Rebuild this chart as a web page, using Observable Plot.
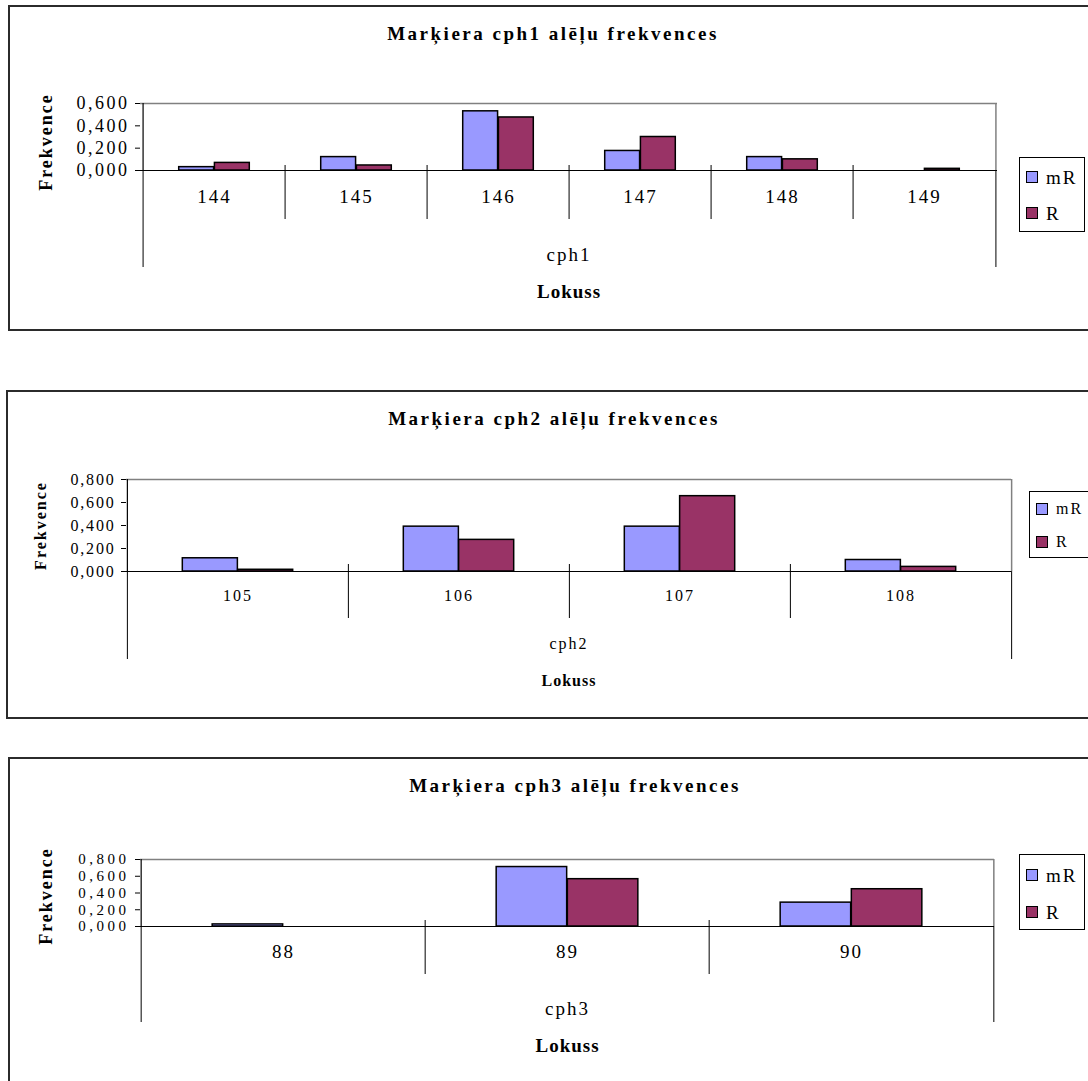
<!DOCTYPE html>
<html>
<head>
<meta charset="utf-8">
<script src="https://cdn.jsdelivr.net/npm/d3@7"></script>
<script src="https://cdn.jsdelivr.net/npm/@observablehq/plot@0.6"></script>
<style>
  html, body { margin: 0; padding: 0; background: #fff; }
  body { width: 1088px; height: 1081px; overflow: hidden; position: relative; font-family: "Liberation Serif", "Times New Roman", serif; color: #000; }
  .box { position: absolute; border: 2px solid #2b2b2b; box-sizing: border-box; }
  .title { position: absolute; text-align: center; font-weight: bold; letter-spacing: 2.5px; white-space: nowrap; line-height: 1; }
  .legend { position: absolute; border: 1px solid #000; background: #fff; box-sizing: border-box; }
  .legend .row { position: absolute; left: 6px; display: flex; align-items: center; line-height: 1; letter-spacing: 2px; }
  .legend .sw { display: inline-block; width: 10px; height: 10px; border: 1.6px solid #000; margin-right: 8px; }
  .chart svg { position: absolute; left: 0; overflow: visible; }
  .chart svg text { font-family: "Liberation Serif", "Times New Roman", serif !important; letter-spacing: 2px; }
</style>
</head>
<body>
<script>
// ---- data ----
const series = ["mR", "R"];
const seriesColors = ["#9999FF", "#993366"];

const cph1Alleles = ["144", "145", "146", "147", "148", "149"];
const cph1mR = [0.030, 0.120, 0.530, 0.175, 0.120, 0.000];
const cph1R  = [0.068, 0.045, 0.475, 0.300, 0.100, 0.015];
const cph1Ticks = [0, 0.2, 0.4, 0.6];

const cph2Alleles = ["105", "106", "107", "108"];
const cph2mR = [0.115, 0.390, 0.390, 0.100];
const cph2R  = [0.015, 0.275, 0.655, 0.040];
const cph2Ticks = [0, 0.2, 0.4, 0.6, 0.8];

const cph3Alleles = ["88", "89", "90"];
const cph3mR = [0.025, 0.710, 0.285];
const cph3R  = [0.000, 0.565, 0.445];
const cph3Ticks = [0, 0.2, 0.4, 0.6, 0.8];

const titles = ["Marķiera cph1 alēļu frekvences", "Marķiera cph2 alēļu frekvences", "Marķiera cph3 alēļu frekvences"];
const loci = ["cph1", "cph2", "cph3"];
const xTitle = "Lokuss";
const yTitle = "Frekvence";

// ---- layout (pixels) ----
const layouts = [
  {box: {left: 8, top: 5, w: 1100, h: 326}, svgW: 1010, plotLeft: 140, plotRight: 997, plotTop: 103, baseline: 170, svgBottom: 325,
   fs: 19, tickFs: 18, tickLs: 2.5, titleFs: 19, titleCx: 553, catDy: 32, locDy: 90, lokDy: 127, divUp: 5, divDown: 49, outerDown: 97,
   ylabX: 46, ylabDy: 5, ylabFs: 18, titleY: 33,
   legend: {left: 1019, top: 157, w: 66, h: 75, rows: [177, 213], fs: 19}},
  {box: {left: 6, top: 390, w: 1100, h: 329}, svgW: 1020, plotLeft: 126, plotRight: 1011, plotTop: 479, baseline: 571, svgBottom: 712,
   fs: 16, tickFs: 16, tickLs: 1.8, titleFs: 19, titleCx: 554, catDy: 29, locDy: 77, lokDy: 114, divUp: 7, divDown: 47, outerDown: 88,
   ylabX: 40, ylabDy: 0, ylabFs: 16, titleY: 418,
   legend: {left: 1029, top: 491, w: 70, h: 67, rows: [509, 542], fs: 16}},
  {box: {left: 8, top: 757, w: 1140, h: 400}, svgW: 1010, plotLeft: 140, plotRight: 994, plotTop: 859, baseline: 926, svgBottom: 1081,
   fs: 19, tickFs: 15, tickLs: 3.5, titleFs: 19, titleCx: 575, catDy: 31, locDy: 88, lokDy: 125, divUp: 6, divDown: 48, outerDown: 96,
   ylabX: 46, ylabDy: 3, ylabFs: 18, titleY: 785,
   legend: {left: 1019, top: 854, w: 66, h: 76, rows: [875, 912], fs: 19}}
];

const fmt = d => d3.format(".3f")(d).replace(".", ",");

function makeChart(alleles, mR, R, ticks, idx) {
  const L = layouts[idx];
  const rows = alleles.flatMap((a, i) => [
    {allele: a, series: series[0], value: mR[i]},
    {allele: a, series: series[1], value: R[i]}
  ]);
  const ymax = ticks[ticks.length - 1];
  const plotW = L.plotRight - L.plotLeft;
  const plotH = L.baseline - L.plotTop;
  const bw = plotW / alleles.length;
  const svgTop = L.plotTop - 30;
  const last = alleles[alleles.length - 1];

  const wrap = document.createElement("div");
  wrap.className = "chart";
  document.body.appendChild(wrap);

  const box = document.createElement("div");
  box.className = "box";
  Object.assign(box.style, {left: L.box.left + "px", top: L.box.top + "px", width: L.box.w + "px", height: L.box.h + "px"});
  wrap.appendChild(box);

  const plot = Plot.plot({
    width: L.svgW,
    height: L.svgBottom - svgTop,
    marginLeft: L.plotLeft,
    marginRight: L.svgW - L.plotRight,
    marginTop: L.plotTop - svgTop,
    marginBottom: L.svgBottom - L.baseline,
    style: {fontFamily: "'Liberation Serif', 'Times New Roman', serif", fontSize: L.tickFs + "px", background: "transparent", color: "#000"},
    x: {domain: alleles, padding: 0, axis: null},
    y: {domain: [0, ymax], ticks: ticks, tickFormat: fmt, tickSize: 5, tickPadding: 6, label: null},
    marks: [
      Plot.ruleY([ymax], {stroke: "#808080", strokeWidth: 1.5}),
      Plot.ruleX([last], {dx: bw / 2, stroke: "#808080", strokeWidth: 1.5}),
      Plot.barY(rows.filter(d => d.series === series[0]), {x: "allele", y: "value", fill: seriesColors[0], stroke: "#000", strokeWidth: 1.5, insetLeft: bw * 0.25, insetRight: bw * 0.5}),
      Plot.barY(rows.filter(d => d.series === series[1]), {x: "allele", y: "value", fill: seriesColors[1], stroke: "#000", strokeWidth: 1.5, insetLeft: bw * 0.5, insetRight: bw * 0.25}),
      Plot.ruleY([0], {stroke: "#000", strokeWidth: 1.2}),
      Plot.ruleX([alleles[0]], {dx: -bw / 2, stroke: "#000", strokeWidth: 1.2}),
      Plot.ruleX(alleles.slice(1), {dx: -bw / 2, insetTop: plotH - L.divUp, insetBottom: -L.divDown, stroke: "#000", strokeWidth: 1}),
      Plot.ruleX([alleles[0]], {dx: -bw / 2, insetTop: plotH, insetBottom: -L.outerDown, stroke: "#000", strokeWidth: 1}),
      Plot.ruleX([last], {dx: bw / 2, insetTop: plotH, insetBottom: -L.outerDown, stroke: "#000", strokeWidth: 1}),
      Plot.text(alleles, {x: d => d, text: d => d, frameAnchor: "bottom", dy: L.catDy, fontSize: L.fs}),
      Plot.text([loci[idx]], {text: d => d, frameAnchor: "bottom", dy: L.locDy, fontSize: L.fs}),
      Plot.text([xTitle], {text: d => d, frameAnchor: "bottom", dy: L.lokDy, fontSize: L.fs, fontWeight: "bold"}),
      Plot.text([yTitle], {text: d => d, frameAnchor: "left", rotate: -90, textAnchor: "middle", dx: L.ylabX - L.plotLeft, dy: L.ylabDy, fontSize: L.ylabFs, fontWeight: "bold"})
    ]
  });
  plot.style.top = svgTop + "px";
  plot.querySelectorAll('g[aria-label^="y-axis"] text').forEach(t => { t.style.letterSpacing = L.tickLs + "px"; });
  plot.querySelectorAll("text").forEach(t => { if (t.textContent === xTitle) t.style.letterSpacing = "1px"; });
  wrap.appendChild(plot);

  const t = document.createElement("div");
  t.className = "title";
  t.textContent = titles[idx];
  Object.assign(t.style, {left: (L.titleCx - 545) + "px", width: "1090px", top: (L.titleY - L.titleFs / 2) + "px", fontSize: L.titleFs + "px"});
  wrap.appendChild(t);

  const lg = document.createElement("div");
  lg.className = "legend";
  Object.assign(lg.style, {left: L.legend.left + "px", top: L.legend.top + "px", width: L.legend.w + "px", height: L.legend.h + "px", fontSize: L.legend.fs + "px"});
  series.forEach((s, i) => {
    const r = document.createElement("div");
    r.className = "row";
    r.style.top = (L.legend.rows[i] - L.legend.top - L.legend.fs / 2 - 1) + "px";
    r.style.height = L.legend.fs + "px";
    const sw = document.createElement("span");
    sw.className = "sw";
    sw.style.background = seriesColors[i];
    const tx = document.createElement("span");
    tx.textContent = s;
    r.appendChild(sw); r.appendChild(tx);
    lg.appendChild(r);
  });
  wrap.appendChild(lg);
}

makeChart(cph1Alleles, cph1mR, cph1R, cph1Ticks, 0);
makeChart(cph2Alleles, cph2mR, cph2R, cph2Ticks, 1);
makeChart(cph3Alleles, cph3mR, cph3R, cph3Ticks, 2);
</script>
</body>
</html>
